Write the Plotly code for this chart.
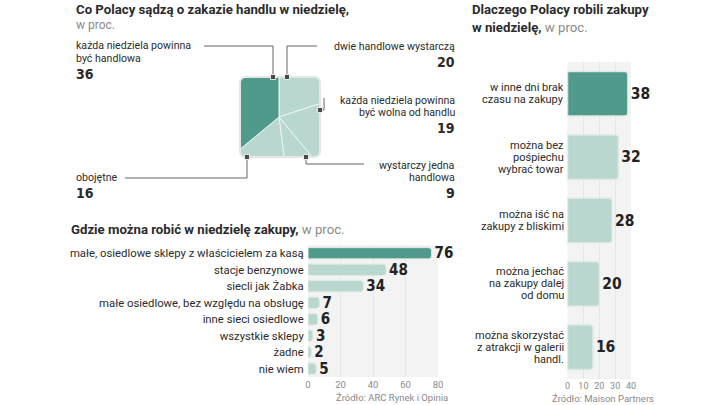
import plotly.graph_objects as go

W, H = 720, 405

# ---------------- data ----------------
pie_labels = ["dwie handlowe wystarczą",
              "każda niedziela powinna być wolna od handlu",
              "wystarczy jedna handlowa",
              "obojętne",
              "każda niedziela powinna być handlowa"]
pie_values = [20, 19, 9, 16, 36]

shop_categories = ["małe, osiedlowe sklepy z właścicielem za kasą",
                   "stacje benzynowe",
                   "siecli jak Żabka",
                   "małe osiedlowe, bez względu na obsługę",
                   "inne sieci osiedlowe",
                   "wszystkie sklepy",
                   "żadne",
                   "nie wiem"]
shop_values = [76, 48, 34, 7, 6, 3, 2, 5]
shop_ticks = [0, 20, 40, 60, 80]

reason_categories = ["w inne dni brak<br>czasu na zakupy",
                     "można bez<br>pośpiechu<br>wybrać towar",
                     "można iść na<br>zakupy z bliskimi",
                     "można jechać<br>na zakupy dalej<br>od domu",
                     "można skorzystać<br>z atrakcji w galerii<br>handl."]
reason_values = [38, 32, 28, 20, 16]
reason_ticks = [0, 10, 20, 30, 40]

# ---------------- style ----------------
DARK = "#4f9a8b"
LIGHT = "#b9d7cf"
EDGE = "#dde7e4"
TXT = "#2b2b2b"
GREY = "#8a8a8a"
FONT = "Roboto"
NUM = "Liberation Sans Narrow, DejaVu Sans Condensed, sans-serif"


def px(x):
    return x / W


def py(y):
    return 1 - y / H


fig = go.Figure()

# ---- square pie (pie clipped to a rounded square) ----
cx, cy, R = 279, 117, 64
fig.add_trace(go.Pie(
    labels=pie_labels, values=pie_values, sort=False, direction="clockwise",
    rotation=0, textinfo="none", hoverinfo="label+value",
    marker=dict(colors=[LIGHT, LIGHT, LIGHT, LIGHT, DARK],
                line=dict(color="#eef5f3", width=1)),
    domain=dict(x=[px(cx - R), px(cx + R)], y=[py(cy + R), py(cy - R)]),
    showlegend=False))

# bar chart bottom-left
fig.add_trace(go.Bar(
    x=shop_values, y=shop_categories, orientation="h",
    marker=dict(color=[DARK] + [LIGHT] * (len(shop_values) - 1),
                line=dict(color=EDGE, width=1), cornerradius=3),
    width=0.68, text=[str(v) for v in shop_values], textposition="outside",
    constraintext="none",
    textfont=dict(family=NUM, size=15, color="#222", weight="bold"), cliponaxis=False,
    xaxis="x", yaxis="y", showlegend=False))

# bar chart right
fig.add_trace(go.Bar(
    x=reason_values, y=reason_categories, orientation="h",
    marker=dict(color=[DARK] + [LIGHT] * (len(reason_values) - 1),
                line=dict(color=EDGE, width=1.5), cornerradius=3),
    width=0.7, text=[str(v) for v in reason_values], textposition="outside",
    constraintext="none",
    textfont=dict(family=NUM, size=15.5, color="#222", weight="bold"), cliponaxis=False,
    xaxis="x2", yaxis="y2", showlegend=False))

# ---- mask around pie square ----
x0, x1, y0, y1, r = 240, 320, 77, 157, 6
ox0, ox1, oy0, oy1 = cx - R - 4, cx + R + 4, cy - R - 4, cy + R + 4


def P(x, y):
    return f"{px(x):.5f},{py(y):.5f}"


outer = f"M{P(ox0, oy0)} L{P(ox1, oy0)} L{P(ox1, oy1)} L{P(ox0, oy1)} Z"
inner_ccw = (f"M{P(x0 + r, y0)} Q{P(x0, y0)} {P(x0, y0 + r)} L{P(x0, y1 - r)} "
             f"Q{P(x0, y1)} {P(x0 + r, y1)} L{P(x1 - r, y1)} Q{P(x1, y1)} {P(x1, y1 - r)} "
             f"L{P(x1, y0 + r)} Q{P(x1, y0)} {P(x1 - r, y0)} Z")
shapes = [
    dict(type="path", xref="paper", yref="paper", path=outer + " " + inner_ccw,
         fillcolor="white", line=dict(width=0), layer="above"),
    dict(type="path", xref="paper", yref="paper", path=inner_ccw,
         fillcolor="rgba(0,0,0,0)", line=dict(color="#e3e8e7", width=2), layer="above"),
]

# leader lines
LC = "#666666"


def seg(pts):
    d = "M" + " L".join(P(a, b) for a, b in pts)
    return dict(type="path", xref="paper", yref="paper", path=d,
                line=dict(color=LC, width=1), layer="above")


shapes += [
    seg([(204, 46), (273, 46), (273, 77)]),
    seg([(317, 46), (287, 46), (287, 77)]),
    seg([(324, 98), (324, 110), (320, 110)]),
    seg([(306, 157), (306, 164), (364, 164)]),
    seg([(125, 178), (247, 178), (247, 157)]),
]
for mx, my in [(273, 77), (287, 77), (320, 110), (306, 157), (247, 157)]:
    shapes.append(dict(type="rect", xref="paper", yref="paper",
                       x0=px(mx - 2.5), x1=px(mx + 2.5), y0=py(my + 2.5), y1=py(my - 2.5),
                       fillcolor="#4a4a4a", line=dict(color="white", width=0.8), layer="above"))

# ---- annotations ----
ann = []


def text(x, y, s, size=10.6, anchor="left", color=TXT, family=FONT):
    ann.append(dict(x=px(x), y=py(y), xref="paper", yref="paper", text=s,
                    showarrow=False, xanchor=anchor, yanchor="middle",
                    borderpad=0, borderwidth=0,
                    align=anchor if anchor != "center" else "center",
                    font=dict(family=family, size=size, color=color)))


text(76, 9, "<b>Co Polacy sądzą o zakazie handlu w niedzielę,</b>", size=13.2)
text(76, 25, "w proc.", size=12, color=GREY)
text(76, 45.5, "każda niedziela powinna")
text(76, 58, "być handlowa")
text(76, 74, "<b>36</b>", size=14, family=NUM)
text(455, 46, "dwie handlowe wystarczą", anchor="right")
text(455, 62, "<b>20</b>", size=14, anchor="right", family=NUM)
text(455, 100, "każda niedziela powinna", anchor="right")
text(455, 112, "być wolna od handlu", anchor="right")
text(455, 128, "<b>19</b>", size=14, anchor="right", family=NUM)
text(455, 165, "wystarczy jedna", anchor="right")
text(455, 177, "handlowa", anchor="right")
text(455, 193, "<b>9</b>", size=14, anchor="right", family=NUM)
text(76, 177, "obojętne")
text(76, 193, "<b>16</b>", size=14, family=NUM)

text(71, 229, "<b>Gdzie można robić w niedzielę zakupy,</b><span style='color:#8a8a8a'> w proc.</span>",
     size=13.2)
text(448, 397, "Źródło: ARC Rynek i Opinia", size=9.5, anchor="right", color=GREY)

text(472, 9, "<b>Dlaczego Polacy robili zakupy</b>", size=13.2)
text(472, 28, "<b>w niedzielę,</b><span style='color:#8a8a8a'> w proc.</span>", size=13.2)
text(603, 398, "Źródło: Maison Partners", size=9.5, anchor="center", color=GREY)

# right chart category labels, one annotation per line (tight leading)
for cat in reason_categories:
    lines = cat.split("<br>")
    n = len(lines)
    for i, ln in enumerate(lines):
        ann.append(dict(x=px(564), y=cat, xref="paper", yref="y2", text=ln,
                        showarrow=False, xanchor="right", yanchor="middle",
                        borderpad=0, borderwidth=0,
                        yshift=-(i - (n - 1) / 2) * 12,
                        font=dict(family=FONT, size=11, color=TXT)))

fig.update_layout(
    width=W, height=H, margin=dict(l=0, r=0, t=0, b=0),
    paper_bgcolor="white", plot_bgcolor="#f3f3f3",
    font=dict(family=FONT, color=TXT),
    shapes=shapes, annotations=ann, bargap=0.3,
    xaxis=dict(domain=[px(308), px(438)], range=[0, 80], tickvals=shop_ticks,
               showgrid=True, gridcolor="#e6e6e6", zeroline=False, automargin=False,
               tickfont=dict(size=9.5, color=GREY), anchor="y"),
    yaxis=dict(domain=[py(377), py(245)], autorange="reversed", automargin=False,
               tickfont=dict(size=11.3, color=TXT), ticks="outside", ticklen=1,
               tickcolor="rgba(0,0,0,0)", showgrid=False, anchor="x"),
    xaxis2=dict(domain=[px(567.5), px(631)], range=[0, 40], tickvals=reason_ticks,
                showgrid=True, gridcolor="#e6e6e6", zeroline=False, automargin=False,
                tickfont=dict(size=9, color=GREY), anchor="y2"),
    yaxis2=dict(domain=[py(379), py(62)], autorange="reversed", automargin=False,
                showticklabels=False, showgrid=False, anchor="x2"),
)

fig.write_html("out.html", config={"displayModeBar": False},
               post_script="document.body.style.margin='0px';")
